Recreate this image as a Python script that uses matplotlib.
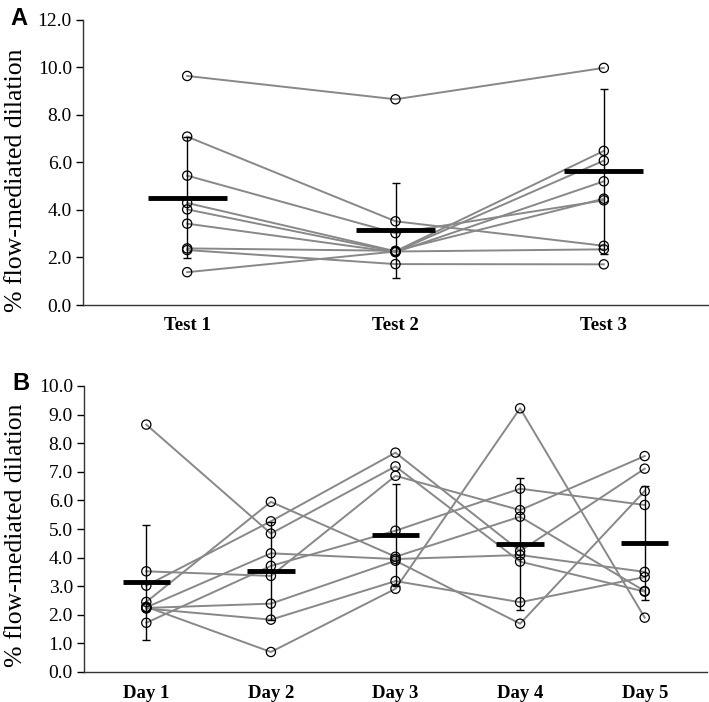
import numpy as np
import matplotlib.pyplot as plt

# panel A: three tests, one value per subject (same subject order in each list)
tests = ["Test 1", "Test 2", "Test 3"]
test1 = [9.63, 7.08, 5.44, 4.29, 4.02, 3.42, 2.38, 2.31, 1.38]
test2 = [8.65, 3.52, 3.02, 2.26, 2.24, 2.22, 2.28, 1.72, 2.25]
test3 = [9.97, 2.49, 4.40, 6.48, 6.07, 5.20, 4.47, 1.71, 2.34]
mean_a = [4.51, 3.14, 5.62]
sd_a = [2.55, 2.01, 3.46]

# panel B: five days
days = ["Day 1", "Day 2", "Day 3", "Day 4", "Day 5"]
day1 = [8.65, 3.52, 3.02, 2.45, 2.26, 2.24, 2.22, 2.28, 1.72]
day2 = [4.84, 3.36, 5.27, 5.95, 4.15, 2.39, 1.83, 0.70, 3.71]
day3 = [7.19, 6.86, 7.67, 4.03, 3.95, 3.89, 3.18, 2.91, 4.94]
day4 = [3.86, 5.66, 4.23, 5.43, 4.09, 1.69, 2.44, 9.22, 6.41]
day5 = [2.81, 7.55, 7.11, 2.83, 3.50, 6.33, 3.32, 1.90, 5.84]
mean_b = [3.14, 3.53, 4.79, 4.49, 4.51]
sd_b = [2.01, 1.70, 1.78, 2.31, 2.00]

serif = "Liberation Serif"
W, H = 709, 702
fig = plt.figure(figsize=(W / 100, H / 100), dpi=100)

axA = fig.add_axes([83 / W, 1 - 305 / H, (708 - 83) / W, (305 - 19.6) / H])
axB = fig.add_axes([84 / W, 1 - 672 / H, (707 - 84) / W, (672 - 386) / H])


def draw(ax, labels, cols, means, sds, ymax, step):
    x = np.arange(len(labels))
    vals = np.array(cols).T  # rows = subjects
    for row in vals:
        ax.plot(x, row, color="#888888", lw=1.4, zorder=1)
    for i, c in enumerate(cols):
        ax.scatter([x[i]] * len(c), c, s=44, facecolors="none",
                   edgecolors="black", linewidths=0.9, zorder=2)
    ax.errorbar(x, means, yerr=sds, fmt="none", ecolor="black",
                elinewidth=1.0, capsize=3, capthick=1.0, zorder=3)
    ax.hlines(means, x - 0.19, x + 0.19, color="black", lw=3.5, zorder=4)

    ax.set_xlim(-0.5, len(labels) - 0.5)
    ax.set_ylim(0, ymax)
    ticks = np.arange(0, ymax + step / 2, step)
    ax.set_yticks(ticks)
    ax.set_yticklabels(["%.1f" % t for t in ticks], fontfamily=serif, fontsize=14)
    ax.set_xticks(x)
    ax.set_xticklabels(labels, fontfamily=serif, fontsize=13.5, fontweight="bold")
    ax.tick_params(axis="x", length=0, pad=9)
    ax.tick_params(axis="y", direction="out", length=5, width=1, pad=3)
    for s in ["top", "right"]:
        ax.spines[s].set_visible(False)
    for s in ["left", "bottom"]:
        ax.spines[s].set_color("#333333")
        ax.spines[s].set_linewidth(1.0)


draw(axA, tests, [test1, test2, test3], mean_a, sd_a, 12, 2)
draw(axB, days, [day1, day2, day3, day4, day5], mean_b, sd_b, 10, 1)

for yc in [180, 535]:
    fig.text(16 / W, 1 - yc / H, "% flow-mediated dilation", rotation=90,
             ha="center", va="center", fontfamily=serif, fontsize=18.5)

fig.text(10 / W, 1 - 7 / H, "A", ha="left", va="top", fontfamily="Liberation Sans",
         fontsize=17, fontweight="bold")
fig.text(12 / W, 1 - 372 / H, "B", ha="left", va="top", fontfamily="Liberation Sans",
         fontsize=17, fontweight="bold")

fig.savefig("out.png", dpi=100)
